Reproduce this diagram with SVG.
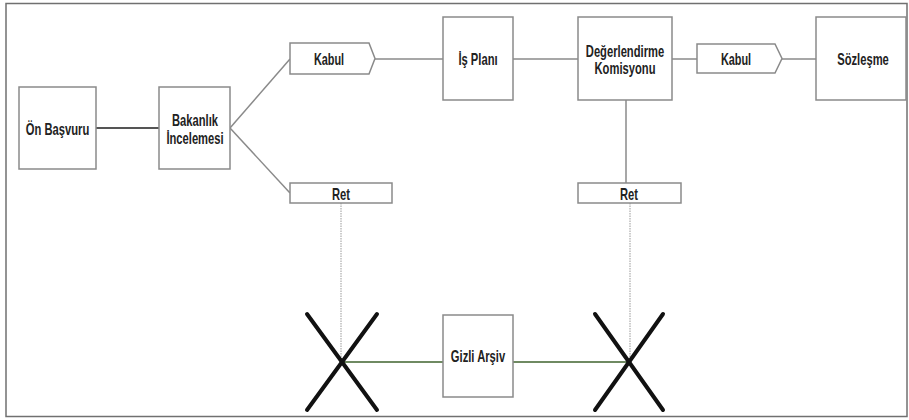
<svg xmlns="http://www.w3.org/2000/svg" width="909" height="420" viewBox="0 0 909 420">
<style>
.box{fill:#fff;stroke:#8a8a8a;stroke-width:1.5}
.t{font-family:"Liberation Sans",Arial,sans-serif;font-weight:bold;font-size:16px;fill:#222;text-anchor:middle}
.ln{stroke:#8a8a8a;stroke-width:1.5;fill:none}
.dot{stroke:#999;stroke-width:1;stroke-dasharray:1.5 1;fill:none}
.gr{stroke:#6f8a62;stroke-width:2.2;fill:none}
.x{stroke:#111;stroke-width:4;stroke-linecap:round}
</style>
<rect x="0" y="0" width="909" height="420" fill="#fff"/>
<rect x="6" y="3.5" width="901" height="413" fill="none" stroke="#707070" stroke-width="1.5"/>
<g id="connectors">
<line x1="96" y1="128" x2="159" y2="128" stroke="#555" stroke-width="2.2"/>
<line class="ln" x1="230" y1="128" x2="290" y2="59"/>
<line class="ln" x1="230" y1="128" x2="290" y2="193"/>
<line class="ln" x1="375" y1="59" x2="443" y2="59"/>
<line class="ln" x1="513" y1="59" x2="578" y2="59"/>
<line class="ln" x1="672" y1="59" x2="697" y2="59"/>
<line class="ln" x1="782" y1="59" x2="816" y2="59"/>
<line class="ln" x1="626" y1="100" x2="626" y2="183"/>
<line class="dot" x1="341" y1="203" x2="341" y2="362"/>
<line class="dot" x1="630" y1="203" x2="630" y2="362"/>
<line class="gr" x1="342" y1="362" x2="443" y2="362"/>
<line class="gr" x1="513" y1="362" x2="629" y2="362"/>
</g>
<g id="on-basvuru"><rect class="box" x="19" y="87" width="77" height="82"/><text class="t" transform="translate(57.5,135) scale(0.7,1)">Ön Başvuru</text></g>
<g id="bakanlik"><rect class="box" x="159" y="87" width="71" height="82"/><text class="t" transform="translate(195,126) scale(0.7,1)">Bakanlık</text><text class="t" transform="translate(195,144) scale(0.7,1)">İncelemesi</text></g>
<g id="kabul1"><path class="box" d="M290,43 H369 L375,58.5 L369,74 H290 Z"/><text class="t" transform="translate(329,65) scale(0.68,1)">Kabul</text></g>
<g id="is-plani"><rect class="box" x="443" y="17" width="70" height="83"/><text class="t" transform="translate(478,65) scale(0.7,1)">İş Planı</text></g>
<g id="degerlendirme"><rect class="box" x="578" y="17" width="94" height="83"/><text class="t" transform="translate(625,56.5) scale(0.7,1)">Değerlendirme</text><text class="t" transform="translate(625,73.5) scale(0.7,1)">Komisyonu</text></g>
<g id="kabul2"><path class="box" d="M697,44 H775 L782,58.5 L775,73 H697 Z"/><text class="t" transform="translate(736,65) scale(0.68,1)">Kabul</text></g>
<g id="sozlesme"><rect class="box" x="816" y="17" width="90" height="83"/><text class="t" transform="translate(863,65) scale(0.7,1)">Sözleşme</text></g>
<g id="ret1"><rect class="box" x="290" y="183" width="102" height="20"/><text class="t" transform="translate(341,199.5) scale(0.7,1)">Ret</text></g>
<g id="ret2"><rect class="box" x="578" y="183" width="103" height="20"/><text class="t" transform="translate(629,199.5) scale(0.7,1)">Ret</text></g>
<g id="x1"><line class="x" x1="307" y1="314" x2="377" y2="410"/><line class="x" x1="377" y1="314" x2="307" y2="410"/></g>
<g id="x2"><line class="x" x1="595" y1="314" x2="663" y2="410"/><line class="x" x1="663" y1="314" x2="595" y2="410"/></g>
<g id="gizli-arsiv"><rect class="box" x="443" y="315" width="70" height="82"/><text class="t" transform="translate(478,362) scale(0.7,1)">Gizli Arşiv</text></g>
</svg>
